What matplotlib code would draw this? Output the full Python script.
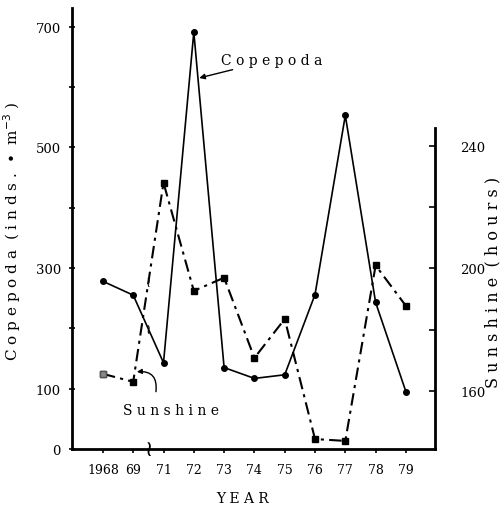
import matplotlib
matplotlib.use("Agg")
import matplotlib.pyplot as plt
import numpy as np

years = ["1968", "69", "71", "72", "73", "74", "75", "76", "77", "78", "79"]
copepoda = [278, 255, 143, 691, 135, 117, 123, 256, 553, 243, 95]
sunshine = [165.6, 163, 228, 192.7, 197, 170.8, 183.5, 144.3, 143.7, 201, 187.8]
left_ticks = [0, 100, 200, 300, 400, 500, 600, 700]
left_labels = ["0", "100", "", "300", "", "500", "", "700"]
right_ticks = [160, 180, 200, 220, 240]
right_labels = ["160", "", "200", "", "240"]

FONT = "DejaVu Serif"
x = np.arange(len(years))

fig = plt.figure(figsize=(5.04, 5.10), dpi=100)
ax = fig.add_axes([72/504, 60/510, 363/504, 441/510])
ax.set_xlim(-1.02, 10.96)
ax.set_ylim(0, 731)

ax.plot(x, copepoda, color="black", lw=1.2, marker="o", ms=4, zorder=3)

ax2 = ax.twinx()
ax2.set_ylim(141.06, 285.06)
ax2.plot(x, sunshine, color="black", lw=1.5, linestyle=(0, (6, 2.5, 1.5, 2.5)),
         marker="s", ms=5, zorder=3)
ax2.plot(x[:1], sunshine[:1], linestyle="none", marker="s", ms=5,
         mfc="#888888", mec="#555555", zorder=4)

for a in (ax, ax2):
    a.spines["top"].set_visible(False)
ax.spines["right"].set_visible(False)
ax2.spines["left"].set_visible(False)
ax2.spines["bottom"].set_visible(False)
ax.spines["left"].set_linewidth(2.0)
ax.spines["bottom"].set_linewidth(2.0)
ax2.spines["right"].set_linewidth(2.0)
ax2.spines["right"].set_bounds(141.06, 246)

ax.set_xticks(x)
ax.set_xticklabels(years, fontfamily=FONT, fontsize=9)
ax.set_yticks(left_ticks)
ax.set_yticklabels(left_labels, fontfamily=FONT, fontsize=9.5)
ax.tick_params(axis="x", direction="out", length=3, width=1.2, pad=7)
ax.tick_params(axis="y", direction="inout", length=4, width=1.2, pad=6)
ax2.set_yticks(right_ticks)
ax2.set_yticklabels(right_labels, fontfamily=FONT, fontsize=9.5)
ax2.tick_params(axis="y", direction="in", length=4, width=1.2, pad=18)

ax.set_ylabel("C o p e p o d a  ( i n d s .  •  m$^{-3}$ )", fontfamily=FONT,
              fontsize=11)
ax.yaxis.set_label_coords(-0.135, 0.495)
ax2.set_ylabel("S u n s h i n e  ( h o u r s )", fontfamily=FONT, fontsize=11.5,
               rotation=90)
ax2.yaxis.set_label_coords(1.135, 0.38)
ax.set_xlabel("Y E A R", fontfamily=FONT, fontsize=10)
ax.xaxis.set_label_coords(0.47, -0.095)

# break marks (gap for 1970)
brk = 1.5
ax.text(brk, 0, r"$\wr$", ha="center", va="center", fontsize=16, zorder=5)
ax.text(brk, np.interp(brk, x, copepoda), r"$\wr$", ha="center", va="center",
        fontsize=10, zorder=5)
ax2.text(brk, np.interp(brk, x, sunshine), r"$\wr$", ha="center", va="center",
         fontsize=10, zorder=5)

# annotations
ax.annotate("C o p e p o d a", xy=(3.18, 615), xytext=(3.9, 645),
            fontfamily=FONT, fontsize=10, va="center", ha="left",
            arrowprops=dict(arrowstyle="-|>", color="black", lw=1.0,
                            mutation_scale=8, shrinkA=0, shrinkB=0))
ax.text(2.25, 65, "S u n s h i n e", fontfamily=FONT, fontsize=10,
        ha="center", va="center")
ax.annotate("", xy=(1.12, 128), xytext=(1.75, 95),
            arrowprops=dict(arrowstyle="-|>", color="black", lw=1.0,
                            mutation_scale=7, shrinkA=0, shrinkB=0,
                            connectionstyle="arc3,rad=0.6"))

fig.savefig("out.png", dpi=100)
